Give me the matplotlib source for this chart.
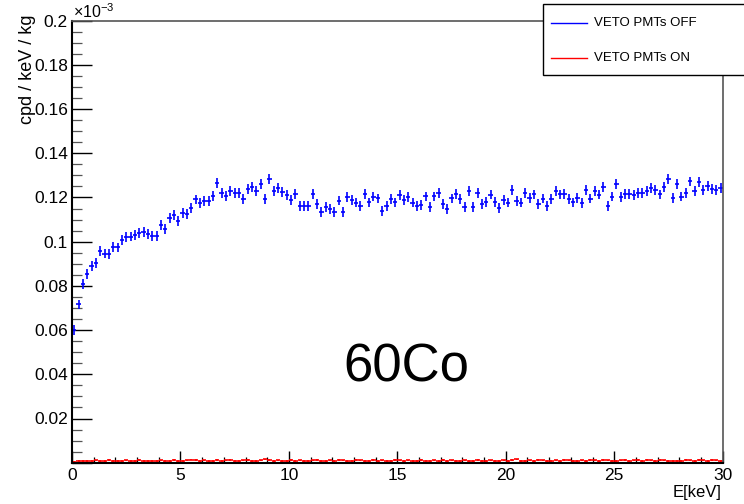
import matplotlib.pyplot as plt
from matplotlib.lines import Line2D
from matplotlib.patches import Rectangle
from matplotlib.ticker import MultipleLocator, FuncFormatter

plt.rcParams['font.family'] = ['Liberation Sans', 'DejaVu Sans']
plt.rcParams['mathtext.fontset'] = 'custom'
plt.rcParams['mathtext.rm'] = 'Liberation Sans'

# 150 bins of 0.2 keV between 0 and 30 keV
bin_width = 0.2
n_bins = 150
energy = [bin_width * (i + 0.5) for i in range(n_bins)]

# rates in units of 1e-3 cpd/keV/kg
rate_veto_off = [
    0.0600, 0.0716, 0.0809, 0.0853, 0.0890, 0.0902, 0.0958, 0.0946, 0.0944, 0.0977,
    0.0974, 0.1008, 0.1020, 0.1023, 0.1029, 0.1038, 0.1044, 0.1036, 0.1026, 0.1027,
    0.1075, 0.1057, 0.1108, 0.1122, 0.1095, 0.1129, 0.1126, 0.1153, 0.1191, 0.1176,
    0.1184, 0.1184, 0.1208, 0.1264, 0.1220, 0.1208, 0.1231, 0.1220, 0.1220, 0.1192,
    0.1240, 0.1246, 0.1229, 0.1261, 0.1192, 0.1284, 0.1228, 0.1242, 0.1226, 0.1210,
    0.1189, 0.1217, 0.1160, 0.1163, 0.1163, 0.1217, 0.1172, 0.1133, 0.1158, 0.1147,
    0.1136, 0.1186, 0.1136, 0.1201, 0.1189, 0.1177, 0.1163, 0.1217, 0.1178, 0.1204,
    0.1196, 0.1140, 0.1160, 0.1192, 0.1178, 0.1211, 0.1189, 0.1202, 0.1177, 0.1160,
    0.1165, 0.1205, 0.1156, 0.1205, 0.1219, 0.1171, 0.1149, 0.1196, 0.1217, 0.1193,
    0.1156, 0.1229, 0.1157, 0.1220, 0.1169, 0.1181, 0.1213, 0.1181, 0.1154, 0.1190,
    0.1177, 0.1233, 0.1184, 0.1177, 0.1220, 0.1199, 0.1214, 0.1171, 0.1195, 0.1162,
    0.1192, 0.1229, 0.1214, 0.1216, 0.1193, 0.1178, 0.1199, 0.1174, 0.1235, 0.1195,
    0.1229, 0.1213, 0.1248, 0.1163, 0.1204, 0.1262, 0.1202, 0.1217, 0.1217, 0.1211,
    0.1220, 0.1219, 0.1231, 0.1242, 0.1233, 0.1214, 0.1248, 0.1284, 0.1199, 0.1261,
    0.1204, 0.1220, 0.1273, 0.1231, 0.1270, 0.1234, 0.1252, 0.1237, 0.1233, 0.1242,
]
err_veto_off = 0.0022

rate_veto_on = [
    0.0004, 0.0006, 0.0007, 0.0009, 0.0008, 0.0010, 0.0009, 0.0008, 0.0012, 0.0009,
    0.0008, 0.0009, 0.0010, 0.0008, 0.0009, 0.0011, 0.0009, 0.0008, 0.0007, 0.0009,
    0.0010, 0.0008, 0.0009, 0.0012, 0.0009, 0.0008, 0.0010, 0.0014, 0.0011, 0.0009,
    0.0010, 0.0008, 0.0009, 0.0011, 0.0009, 0.0010, 0.0012, 0.0009, 0.0008, 0.0010,
    0.0011, 0.0009, 0.0008, 0.0010, 0.0015, 0.0012, 0.0009, 0.0010, 0.0008, 0.0009,
    0.0011, 0.0009, 0.0010, 0.0009, 0.0008, 0.0010, 0.0011, 0.0009, 0.0008, 0.0010,
    0.0009, 0.0011, 0.0010, 0.0008, 0.0009, 0.0012, 0.0010, 0.0009, 0.0008, 0.0011,
    0.0009, 0.0010, 0.0008, 0.0009, 0.0011, 0.0010, 0.0009, 0.0010, 0.0008, 0.0009,
    0.0012, 0.0009, 0.0008, 0.0010, 0.0009, 0.0011, 0.0009, 0.0010, 0.0008, 0.0009,
    0.0010, 0.0008, 0.0009, 0.0011, 0.0009, 0.0008, 0.0010, 0.0009, 0.0008, 0.0010,
    0.0009, 0.0011, 0.0015, 0.0009, 0.0008, 0.0010, 0.0009, 0.0011, 0.0010, 0.0009,
    0.0008, 0.0010, 0.0009, 0.0011, 0.0010, 0.0009, 0.0008, 0.0010, 0.0009, 0.0011,
    0.0010, 0.0009, 0.0011, 0.0010, 0.0009, 0.0008, 0.0010, 0.0012, 0.0009, 0.0010,
    0.0011, 0.0009, 0.0012, 0.0010, 0.0008, 0.0013, 0.0010, 0.0009, 0.0006, 0.0008,
    0.0009, 0.0011, 0.0010, 0.0009, 0.0012, 0.0010, 0.0009, 0.0011, 0.0010, 0.0009,
]
err_veto_on = 0.0004

fig = plt.figure(figsize=(7.44, 5.04), dpi=100)
ax = fig.add_axes([72 / 744, 41.3 / 504, 650.7 / 744, 442.0 / 504])

ax.errorbar(energy, rate_veto_off, xerr=bin_width / 2, yerr=err_veto_off,
            fmt='none', ecolor='#0000ff', elinewidth=1.2, capsize=0)
ax.errorbar(energy, rate_veto_on, xerr=bin_width / 2, yerr=err_veto_on,
            fmt='none', ecolor='#ff0000', elinewidth=1.2, capsize=0)

ax.set_xlim(0, 30)
ax.set_ylim(0, 0.2)

ax.xaxis.set_major_locator(MultipleLocator(5))
ax.xaxis.set_minor_locator(MultipleLocator(1))
ax.yaxis.set_major_locator(MultipleLocator(0.02))
ax.yaxis.set_minor_locator(MultipleLocator(0.005))
ax.yaxis.set_major_formatter(FuncFormatter(lambda v, p: '' if abs(v) < 1e-9 else '%g' % round(v, 3)))
ax.xaxis.set_major_formatter(FuncFormatter(lambda v, p: '%g' % v))

ax.tick_params(axis='x', which='major', direction='in', length=9, width=1.0,
               labelsize=12.5, pad=4, top=False)
ax.tick_params(axis='x', which='minor', direction='in', length=4.3, width=0.9, top=False)
ax.tick_params(axis='y', which='major', direction='in', length=14.4, width=1.0,
               labelsize=12.5, pad=3, right=False)
ax.tick_params(axis='y', which='minor', direction='in', length=7.2, width=0.9,
               color='#555555', right=False)

for side in ['left', 'bottom']:
    ax.spines[side].set_linewidth(1.5)
    ax.spines[side].set_color('black')
for side in ['top', 'right']:
    ax.spines[side].set_linewidth(1.2)
    ax.spines[side].set_color('#555555')

fig.text(27 / 744, 1 - 14 / 504, 'cpd / keV / kg', rotation=90, ha='center', va='top', fontsize=13)
fig.text(721 / 744, 1 - 497 / 504, 'E[keV]', ha='right', va='baseline', fontsize=12)
fig.text(73 / 744, 1 - 18 / 504, r'$\times10^{-3}$', ha='left', va='baseline', fontsize=11.5)

ax.text(15.4, 0.043, '60Co', ha='center', va='center', fontsize=38)

# legend box drawn in figure pixels
W, H = 744.0, 504.0
fig.patches.append(Rectangle((543 / W, 1 - 75.3 / H), 210 / W, 71 / H, transform=fig.transFigure,
                             facecolor='white', edgecolor='black', linewidth=1.0, zorder=5))
legend_rows = [('VETO PMTs OFF', '#0000ff', 23), ('VETO PMTs ON', '#ff0000', 58)]
for label, color, y in legend_rows:
    fig.lines.append(Line2D([551 / W, 587 / W], [1 - y / H, 1 - y / H], transform=fig.transFigure,
                            color=color, linewidth=1.0, zorder=6))
    fig.text(594 / W, 1 - y / H, label, ha='left', va='center', fontsize=9.5, zorder=6)

fig.savefig('out.png', dpi=100)
